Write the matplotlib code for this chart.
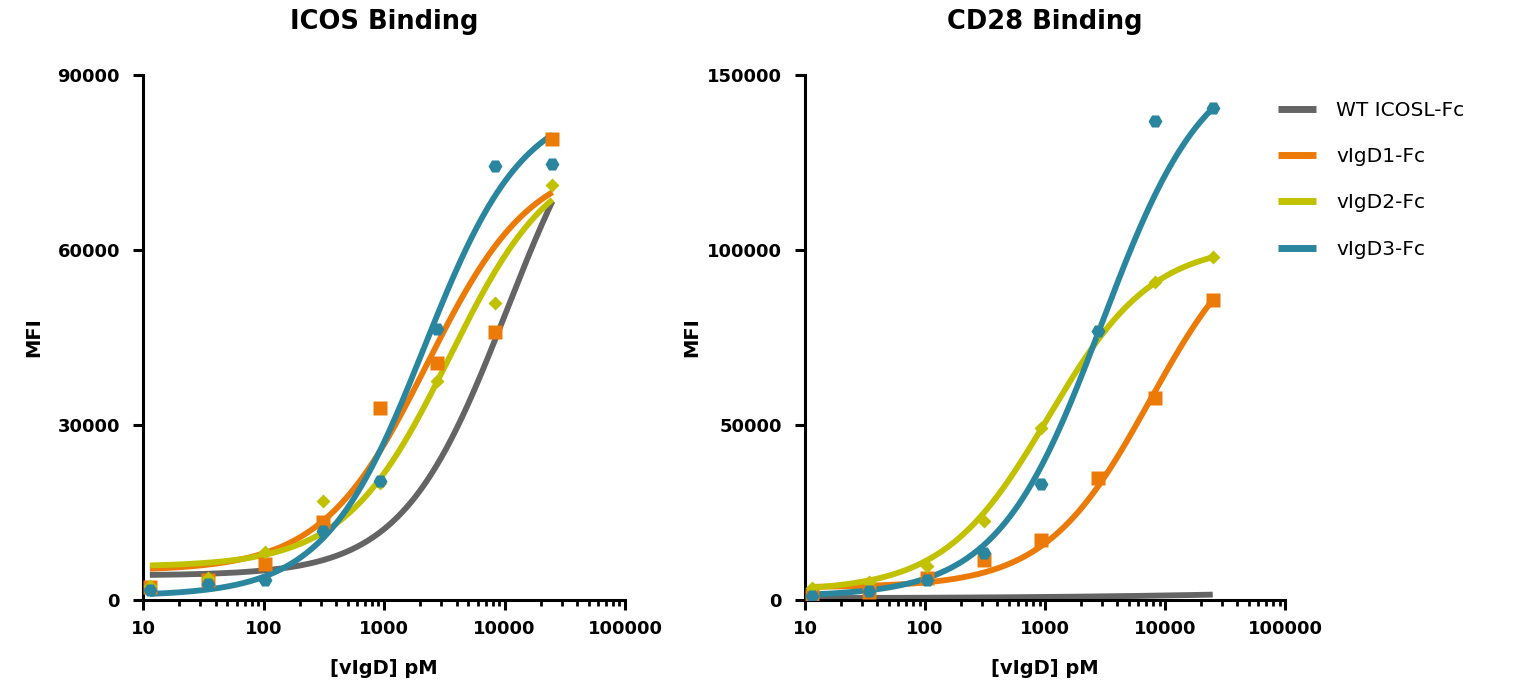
import numpy as np
import matplotlib
matplotlib.use('Agg')
import matplotlib.pyplot as plt
from matplotlib.ticker import LogLocator, FixedLocator, FuncFormatter, NullFormatter

plt.rcParams['font.family'] = ['DejaVu Sans']

# concentraciones (pM), diluciones 1:3
conc = [11.4, 34.3, 103, 309, 926, 2778, 8333, 25000]

series_names = ['WT ICOSL-Fc', 'vIgD1-Fc', 'vIgD2-Fc', 'vIgD3-Fc']
colors = ['#646464', '#EC7A08', '#C1C100', '#2A859E']
markers = [None, 's', 'D', 'H']
msizes = [0, 10, 7.5, 10]

# ICOS binding - puntos (MFI)
icos_vigd1 = [2160, 3410, 6180, 13430, 32970, 40640, 45950, 79060]
icos_vigd2 = [2400, 3700, 8220, 17010, 20000, 37550, 50850, 71140]
icos_vigd3 = [1800, 2800, 3500, 11750, 20410, 46520, 74350, 74720]

# CD28 binding - puntos (MFI)
cd28_vigd1 = [1240, 2280, 6170, 11340, 17020, 34850, 57720, 85790]
cd28_vigd2 = [3290, 5160, 9800, 22470, 49270, 76810, 90720, 97930]
cd28_vigd3 = [1200, 2500, 5800, 13410, 33200, 76810, 136900, 140500]

# parametros del ajuste 4PL: bottom, top, EC50, hill
icos_fit = [
    [4200, 95170, 10450, 1.0],
    [5000, 75800, 2270, 1.0],
    [5690, 77430, 3480, 1.0],
    [700, 85800, 2150, 1.05],
]
cd28_fit = [
    [450, 5500, 1000000, 0.35],
    [3600, 110300, 7470, 1.0],
    [2500, 102000, 1065, 1.0],
    [1000, 157100, 2975, 1.0],
]

icos_points = [None, icos_vigd1, icos_vigd2, icos_vigd3]
cd28_points = [None, cd28_vigd1, cd28_vigd2, cd28_vigd3]


def curva4pl(x, bottom, top, ec50, hill):
  return bottom + (top - bottom) / (1 + (ec50 / x) ** hill)


def panel(ax, titulo, puntos, ajustes, ymax, yticks):
  xs = np.logspace(np.log10(conc[0]), np.log10(conc[-1]), 300)
  for i in range(4):
    ax.plot(xs, curva4pl(xs, *ajustes[i]), color=colors[i], lw=4.2,
            solid_capstyle='butt', label=series_names[i], zorder=2 + i)
  for i in range(1, 4):
    ax.plot(conc, puntos[i], linestyle='none', marker=markers[i],
            ms=msizes[i], color=colors[i], mec='none', zorder=7 + i)

  ax.set_xscale('log')
  ax.set_xlim(10, 100000)
  ax.set_ylim(0, ymax)
  ax.xaxis.set_major_locator(FixedLocator([10, 100, 1000, 10000, 100000]))
  ax.xaxis.set_major_formatter(FuncFormatter(lambda v, p: f'{int(round(v))}'))
  ax.xaxis.set_minor_locator(LogLocator(base=10, subs=np.arange(2, 10)))
  ax.xaxis.set_minor_formatter(NullFormatter())
  ax.yaxis.set_major_locator(FixedLocator(yticks))
  ax.yaxis.set_major_formatter(FuncFormatter(lambda v, p: f'{int(v)}'))

  for s in ['top', 'right']:
    ax.spines[s].set_visible(False)
  for s in ['left', 'bottom']:
    ax.spines[s].set_linewidth(2.2)
  ax.tick_params(which='major', length=7.5, width=2.2, labelsize=13, pad=7)
  ax.tick_params(axis='y', which='major', pad=9)
  ax.tick_params(which='minor', length=4, width=2.0)
  for lab in ax.get_xticklabels() + ax.get_yticklabels():
    lab.set_fontweight('bold')

  ax.set_title(titulo, fontsize=18.5, fontweight='bold', pad=33)
  ax.set_xlabel('[vIgD] pM', fontsize=14, fontweight='bold', labelpad=15)
  ax.set_ylabel('MFI', fontsize=14, fontweight='bold', labelpad=10)


fig = plt.figure(figsize=(15.23, 6.87), dpi=100)
ax1 = fig.add_axes([143 / 1523, 1 - 600 / 687, 482 / 1523, 525 / 687])
ax2 = fig.add_axes([805 / 1523, 1 - 600 / 687, 480 / 1523, 525 / 687])

panel(ax1, 'ICOS Binding', icos_points, icos_fit, 90000, [0, 30000, 60000, 90000])
panel(ax2, 'CD28 Binding', cd28_points, cd28_fit, 150000, [0, 50000, 100000, 150000])
ax2.yaxis.labelpad = 4

handles, labels = ax2.get_legend_handles_labels()
leg = fig.legend(handles, labels, loc='upper left',
                 bbox_to_anchor=(1278 / 1523, 1 - 101 / 687), frameon=False,
                 fontsize=14.5, handlelength=1.9, handletextpad=1.0,
                 labelspacing=1.35, borderpad=0, borderaxespad=0)
for line in leg.get_lines():
  line.set_linewidth(5)

plt.savefig('out.png', dpi=100)
